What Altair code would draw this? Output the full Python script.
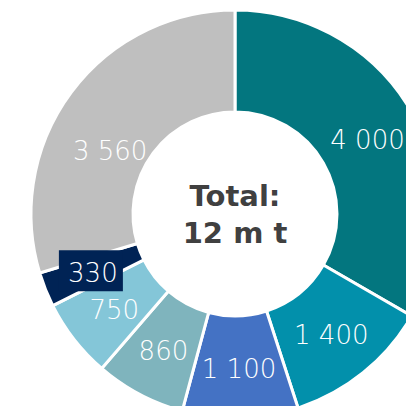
import altair as alt
import pandas as pd

categories = ["A", "B", "C", "D", "E", "F", "G"]
values = [4000, 1400, 1100, 860, 750, 330, 3560]
colors = ["#03767F", "#0290AB", "#4472C4", "#7FB4BD", "#84C6D8", "#002355", "#BFBFBF"]
total_lines = ["Total:", "12 m t"]

labels = [f"{v:,}".replace(",", " ") for v in values]
df = pd.DataFrame({"cat": categories, "value": values, "label": labels,
                   "order": list(range(len(values)))})

CX, CY = 227, 206
R_LABEL = 153
LABEL_FONT = "DejaVu Sans"

base = alt.Chart(df).encode(
    theta=alt.Theta("value:Q", stack=True),
    order=alt.Order("order:Q"),
    x=alt.value(CX), y=alt.value(CY),
)

arcs = base.mark_arc(outerRadius=204, innerRadius=102, stroke="white", strokeWidth=3).encode(
    color=alt.Color("cat:N", scale=alt.Scale(domain=categories, range=colors), legend=None)
)

# label background box behind the "330" label, placed at the slice's mid angle
box = alt.Chart(df).transform_joinaggregate(
    total="sum(value)"
).transform_window(
    cum="sum(value)", sort=[alt.SortField("order")]
).transform_calculate(
    mid=f"(datum.cum - datum.value / 2) / datum.total * 2 * PI",
).transform_calculate(
    px=f"{CX} + {R_LABEL} * sin(datum.mid) - 2",
    py=f"{CY} - {R_LABEL} * cos(datum.mid)",
).transform_filter(
    alt.datum.value == 330
).mark_point(
    shape="M-1,-0.64L1,-0.64L1,0.64L-1,0.64Z", size=64 * 64, filled=True,
    color="#002355", opacity=1, strokeWidth=0
).encode(
    x=alt.X("px:Q", scale=None, axis=None),
    y=alt.Y("py:Q", scale=None, axis=None),
)

main_labels = base.mark_text(
    radius=R_LABEL, fontSize=26, font=LABEL_FONT, fontWeight=200, color="white",
    baseline="middle", dy=3
).encode(text=alt.condition(alt.datum.value != 3560, "label:N", alt.value("")))

grey_label = base.mark_text(
    radius=R_LABEL, fontSize=26, font=LABEL_FONT, fontWeight=200, color="white",
    baseline="middle", dy=29, dx=-2
).encode(text=alt.condition(alt.datum.value == 3560, "label:N", alt.value("")))

center = alt.Chart(pd.DataFrame({"t": [total_lines]})).mark_text(
    fontSize=29, font="DejaVu Sans", fontWeight="bold", color="#404040",
    baseline="middle", lineHeight=37, dy=-17
).encode(text="t", x=alt.value(CX), y=alt.value(CY))

chart = alt.layer(arcs, box, main_labels, grey_label, center).properties(
    width=398, height=398, padding=0, autosize=alt.AutoSizeParams(type="none")
).configure_view(stroke=None)

chart.save("out.html", embed_options={"renderer": "svg", "actions": False})
